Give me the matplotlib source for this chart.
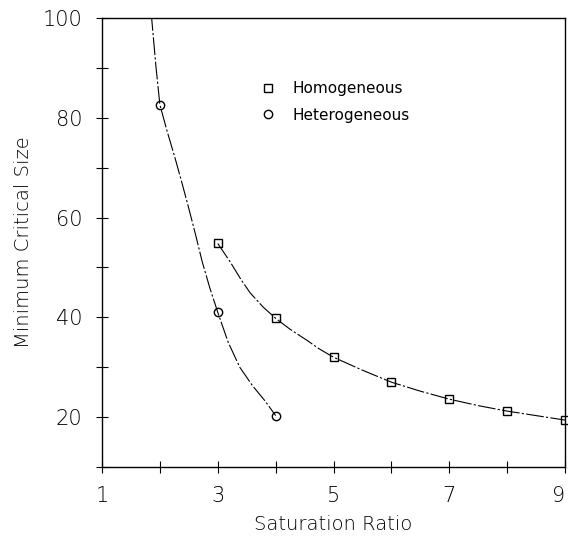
import matplotlib
matplotlib.use("Agg")
import matplotlib.pyplot as plt

# marker values
homo_x = [3, 4, 5, 6, 7, 8, 9]
homo_y = [54.8, 39.8, 32.0, 27.0, 23.6, 21.2, 19.4]
hetero_x = [2, 3, 4]
hetero_y = [82.6, 41.0, 20.3]

# hand-drawn fitted curves
homo_curve_x = [3, 3.21, 3.4, 3.56, 3.78, 4, 4.25, 4.54, 4.75, 5, 5.5, 6, 6.5, 7, 7.5, 8, 8.5, 9]
homo_curve_y = [54.8, 51.2, 47.6, 44.9, 42.1, 39.8, 37.6, 35.4, 33.7, 32.0, 29.4, 27.0, 25.2, 23.6, 22.3, 21.2, 20.3, 19.4]
hetero_curve_x = [1.85, 1.93, 2, 2.12, 2.26, 2.38, 2.5, 2.62, 2.73, 2.86, 3, 3.18, 3.38, 3.6, 3.82, 4]
hetero_curve_y = [101, 90.5, 82.6, 77.5, 72.0, 67.0, 61.8, 56.4, 51.2, 46.0, 41.0, 35.0, 30.0, 26.3, 23.2, 20.3]

x_ticks = [1, 3, 5, 7, 9]
y_ticks = [20, 40, 60, 80, 100]

plt.rcParams["font.family"] = ["DejaVu Sans"]

fig = plt.figure(figsize=(5.68, 5.37), dpi=100)
ax = fig.add_axes([0.1796, 0.1304, 0.8151, 0.8361])

dash = (0, (16, 2, 2, 2))
ax.plot(hetero_curve_x, hetero_curve_y, color="black", lw=0.8, linestyle=dash)
ax.plot(homo_curve_x, homo_curve_y, color="black", lw=0.8, linestyle=dash)

ax.plot(homo_x, homo_y, linestyle="none", marker="s", ms=6, mfc="none",
        mec="black", mew=1.0, label="Homogeneous", clip_on=False)
ax.plot(hetero_x, hetero_y, linestyle="none", marker="o", ms=6, mfc="none",
        mec="black", mew=1.0, label="Heterogeneous", clip_on=False)

ax.set_xlim(1, 9)
ax.set_ylim(10, 100)
ax.set_xticks(x_ticks)
ax.set_xticks(range(1, 10), minor=True)
ax.set_yticks(y_ticks)
ax.set_yticks(range(10, 101, 10), minor=True)
ax.tick_params(which="both", direction="inout", length=8, width=0.8,
               labelsize=15, pad=10)
for lab in ax.get_xticklabels() + ax.get_yticklabels():
    lab.set_fontweight("light")
# keep the last x label inside the image
ax.get_xticklabels()[-1].set_horizontalalignment("right")
ax.get_xticklabels()[-1].set_x(9.08)

for s in ax.spines.values():
    s.set_linewidth(1.0)

ax.set_xlabel("Saturation Ratio", fontsize=14, labelpad=6, fontweight="light")
ax.set_ylabel("Minimum Critical Size", fontsize=14, labelpad=7, fontweight="light")

ax.legend(loc="upper left", bbox_to_anchor=(0.31, 0.89), frameon=False,
          fontsize=11, handlelength=1.2, handletextpad=1.0, labelspacing=0.75)

fig.savefig("out.png", dpi=100)
